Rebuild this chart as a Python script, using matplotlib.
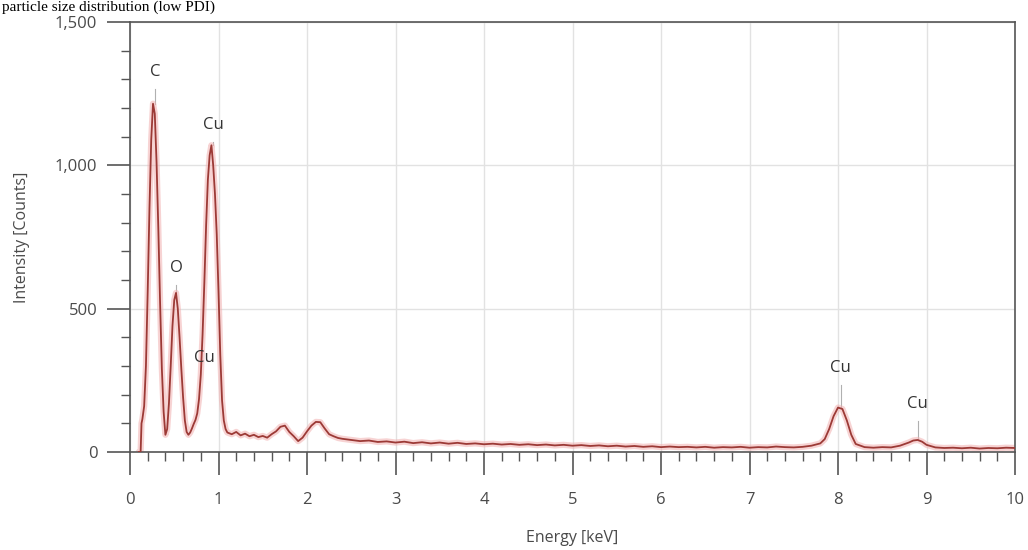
import matplotlib
matplotlib.use("Agg")
import matplotlib.pyplot as plt
from matplotlib.ticker import MultipleLocator, FuncFormatter

# ---- data ----
energy_low = [0.10, 0.12, 0.13, 0.14, 0.16, 0.18, 0.20, 0.22, 0.24, 0.26, 0.28, 0.30,
              0.32, 0.34, 0.36, 0.38, 0.40, 0.42, 0.44, 0.46, 0.48, 0.50, 0.52, 0.54,
              0.56, 0.58, 0.60, 0.62, 0.64, 0.66, 0.68, 0.70, 0.72, 0.74, 0.76, 0.78,
              0.80, 0.82, 0.84, 0.86, 0.88, 0.90, 0.92, 0.94, 0.96, 0.98, 1.00, 1.02,
              1.04, 1.06, 1.08, 1.10]
counts_low = [0, 0, 100, 115, 160, 300, 560, 850, 1090, 1215, 1180, 1010,
              780, 520, 290, 140, 60, 80, 170, 300, 440, 530, 555, 500,
              400, 290, 190, 110, 70, 60, 68, 82, 98, 112, 135, 185,
              270, 410, 590, 790, 950, 1035, 1070, 1000, 900, 760, 560, 340,
              180, 110, 80, 68]

energy_mid = [1.15, 1.20, 1.25, 1.30, 1.35, 1.40, 1.45, 1.50, 1.55, 1.60, 1.65, 1.70,
              1.75, 1.80, 1.85, 1.90, 1.95, 2.00, 2.05, 2.10, 2.15, 2.20, 2.25, 2.30,
              2.35, 2.40, 2.45, 2.50]
counts_mid = [62, 70, 58, 64, 55, 60, 52, 56, 50, 62, 72, 88,
              92, 70, 55, 38, 50, 72, 92, 105, 104, 82, 62, 55,
              49, 46, 44, 42]

energy_high = [2.6, 2.7, 2.8, 2.9, 3.0, 3.1, 3.2, 3.3, 3.4, 3.5, 3.6, 3.7, 3.8, 3.9,
               4.0, 4.1, 4.2, 4.3, 4.4, 4.5, 4.6, 4.7, 4.8, 4.9, 5.0, 5.1, 5.2, 5.3,
               5.4, 5.5, 5.6, 5.7, 5.8, 5.9, 6.0, 6.1, 6.2, 6.3, 6.4, 6.5, 6.6, 6.7,
               6.8, 6.9, 7.0, 7.1, 7.2, 7.3, 7.4, 7.5, 7.6, 7.7, 7.8, 7.85, 7.9, 7.95,
               8.0, 8.05, 8.1, 8.15, 8.2, 8.3, 8.4, 8.5, 8.6, 8.7, 8.8, 8.85, 8.9, 8.95,
               9.0, 9.1, 9.2, 9.3, 9.4, 9.5, 9.6, 9.7, 9.8, 9.9, 10.0]
counts_high = [38, 40, 35, 37, 33, 36, 31, 34, 30, 33, 29, 32, 28, 30,
               27, 29, 26, 28, 25, 27, 24, 26, 23, 25, 22, 24, 21, 23,
               20, 22, 19, 21, 18, 20, 17, 19, 17, 18, 16, 18, 15, 17,
               16, 18, 15, 17, 16, 19, 17, 16, 18, 22, 30, 45, 80, 125,
               155, 150, 110, 60, 28, 17, 15, 17, 16, 22, 33, 40, 42, 36,
               25, 16, 14, 15, 13, 15, 12, 14, 13, 15, 14]

energy = energy_low + energy_mid + energy_high
counts = counts_low + counts_mid + counts_high

# peak labels
peak_labels = ["C", "O", "Cu", "Cu", "Cu", "Cu"]
peak_label_x = [0.28, 0.52, 0.94, 0.84, 8.03, 8.90]
peak_label_y = [1326, 642, 1141, 328, 293, 167]
peak_top_y = [1215, 555, 1070, None, 157, 42]

x_ticks = [0, 1, 2, 3, 4, 5, 6, 7, 8, 9, 10]
y_ticks = [0, 500, 1000, 1500]

# ---- figure ----
fig = plt.figure(figsize=(10.28, 5.5), dpi=100)
ax = fig.add_axes([130 / 1028, 98 / 550, 885 / 1028, 430 / 550])

txt = "#4a4a4a"
fig.text(0.002, 0.999, "particle size distribution (low PDI)",
         family="Liberation Serif", fontsize=11, color="black", va="top", ha="left")

ax.plot(energy, counts, color="#f2b0b0", lw=4.5, alpha=0.55, solid_capstyle="round", zorder=2)
ax.plot(energy, counts, color="#9c3a36", lw=1.3, zorder=3)

for lab, lx, ly, py in zip(peak_labels, peak_label_x, peak_label_y, peak_top_y):
    ax.text(lx, ly, lab, ha="center", va="center", fontsize=12, color="#333333",
            family="Open Sans")
    if py is not None:
        ax.plot([lx, lx], [py, ly - 60], color="#b0b0b0", lw=0.8, zorder=1)

ax.set_xlim(0, 10)
ax.set_ylim(0, 1500)
ax.set_xticks(x_ticks)
ax.set_yticks(y_ticks)
ax.xaxis.set_minor_locator(MultipleLocator(0.2))
ax.yaxis.set_minor_locator(MultipleLocator(100))
ax.yaxis.set_major_formatter(FuncFormatter(lambda v, p: f"{int(v):,}"))

ax.grid(True, which="major", color="#e2e2e2", lw=1.0, zorder=0)
ax.set_axisbelow(True)

for s in ax.spines.values():
    s.set_color("#555555")
    s.set_linewidth(1.2)

ax.tick_params(which="major", direction="out", length=16.5, width=1.2, color="#555555",
               labelsize=12, labelcolor=txt)
ax.tick_params(axis="x", which="major", pad=12)
ax.tick_params(axis="y", which="major", pad=7)
ax.tick_params(which="minor", direction="out", length=6.5, width=1.0, color="#555555")

for lbl in ax.get_xticklabels() + ax.get_yticklabels():
    lbl.set_family("Open Sans")

ax.set_xlabel("Energy [keV]", fontsize=11.5, color=txt, family="Open Sans", labelpad=16)
ax.set_ylabel("Intensity [Counts]", fontsize=11.5, color=txt, family="Open Sans", labelpad=18)

fig.savefig("out.png", dpi=100)
